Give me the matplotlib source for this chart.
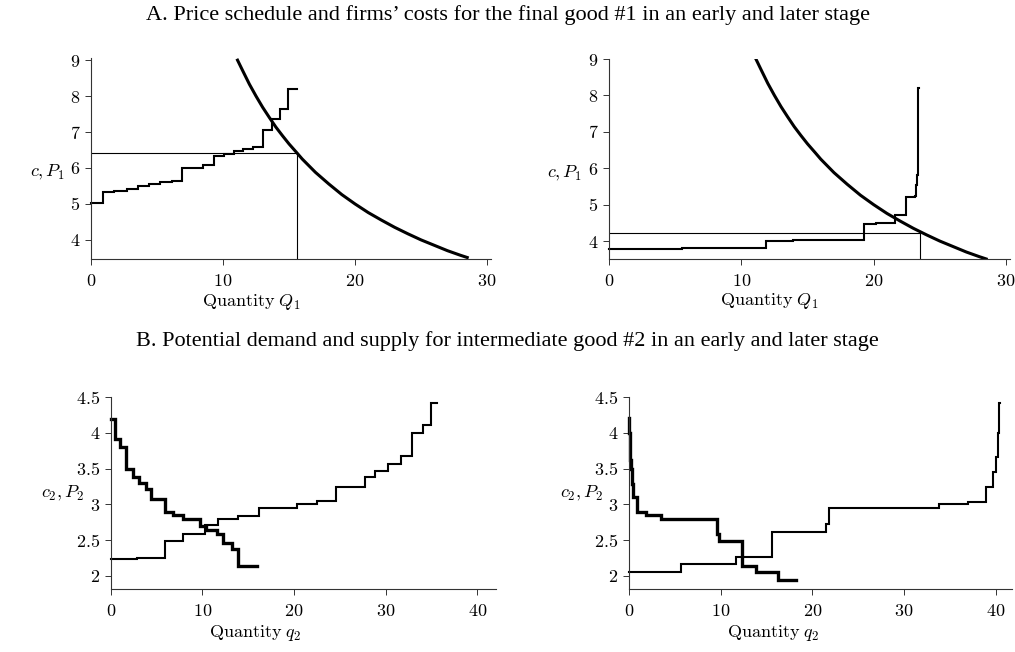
import numpy as np
import matplotlib
matplotlib.use('Agg')
import matplotlib.pyplot as plt

plt.rcParams['mathtext.fontset'] = 'cm'
plt.rcParams['font.family'] = ['Liberation Serif', 'DejaVu Serif']

# --- final good #1: price schedule ---
price_q = [11.1, 11.5, 12.0, 12.5, 13.0, 13.5, 14.0, 14.5, 15.0, 15.6, 16.0, 17.0,
           18.0, 19.0, 20.0, 21.0, 22.0, 23.0, 23.5, 24.0, 25.0, 26.0, 27.0, 28.0, 28.5]
price_p = [9.0, 8.7, 8.33, 8.0, 7.69, 7.41, 7.14, 6.9, 6.67, 6.42, 6.25, 5.88,
           5.56, 5.26, 5.0, 4.76, 4.55, 4.35, 4.26, 4.17, 4.0, 3.85, 3.7, 3.57, 3.51]

# firms' cost steps (breakpoints on Q, cost level after each breakpoint)
cost_early_q = [0, 0.88, 1.74, 2.70, 3.59, 4.42, 5.23, 6.11, 6.92, 8.51, 9.32,
                10.08, 10.8, 11.55, 12.3, 13.0, 13.7, 14.32, 14.95, 15.58]
cost_early_c = [5.02, 5.34, 5.37, 5.42, 5.49, 5.55, 5.60, 5.65, 6.00, 6.09,
                6.34, 6.38, 6.46, 6.53, 6.58, 7.07, 7.35, 7.63, 8.21]
cost_late_q = [0, 5.48, 11.85, 13.9, 19.25, 20.2, 21.6, 22.45, 23.1, 23.2, 23.3, 23.38, 23.45]
cost_late_c = [3.77, 3.80, 4.01, 4.03, 4.46, 4.49, 4.71, 5.20, 5.25, 5.55, 5.82, 8.2]

eq_early = (15.58, 6.42)
eq_late = (23.5, 4.23)

# --- intermediate good #2: potential demand and supply ---
dem_early_q = [0, 0.42, 0.97, 1.65, 2.4, 3.05, 3.8, 4.36, 5.92, 6.83, 7.92, 9.74,
               10.45, 11.56, 12.21, 13.2, 13.93, 15.92]
dem_early_p = [4.20, 3.91, 3.80, 3.50, 3.38, 3.30, 3.21, 3.08, 2.89, 2.85, 2.80,
               2.69, 2.64, 2.58, 2.46, 2.37, 2.13]
sup_early_q = [0, 2.9, 5.92, 7.85, 10.3, 11.74, 13.92, 16.15, 20.3, 22.47, 24.6,
               27.75, 28.83, 30.28, 31.65, 32.9, 34.1, 34.94, 35.63]
sup_early_c = [2.24, 2.25, 2.49, 2.59, 2.71, 2.79, 2.83, 2.95, 3.0, 3.05, 3.25,
               3.38, 3.47, 3.56, 3.68, 4.0, 4.11, 4.42]

dem_late_q = [0, 0.04, 0.08, 0.13, 0.2, 0.28, 0.45, 0.82, 1.85, 3.5, 9.62, 9.8,
              12.28, 12.38, 13.9, 16.22, 18.25]
dem_late_p = [4.21, 4.0, 3.81, 3.62, 3.50, 3.29, 3.10, 2.89, 2.85, 2.80, 2.59,
              2.48, 2.40, 2.14, 2.05, 1.94]
sup_late_q = [0, 5.64, 11.64, 15.64, 21.5, 21.8, 33.85, 37.0, 39.0, 39.75, 40.1, 40.3, 40.4, 40.5]
sup_late_c = [2.05, 2.16, 2.26, 2.61, 2.73, 2.95, 3.0, 3.04, 3.25, 3.46, 3.67, 4.0, 4.42]

W, H = 1015, 652
fig = plt.figure(figsize=(W / 100, H / 100), dpi=100)


def box(left, top, right, bottom):
    return [left / W, 1 - bottom / H, (right - left) / W, (bottom - top) / H]


def style(ax, xticks, yticks, ylab, xlab, ylab_pos, xlab_pos):
    for s in ['top', 'right']:
        ax.spines[s].set_visible(False)
    for s in ['left', 'bottom']:
        ax.spines[s].set_color('#333333')
        ax.spines[s].set_linewidth(0.8)
    ax.tick_params(direction='out', length=4, width=0.7, color='#333333', labelsize=13)
    ax.tick_params(axis='x', pad=6)
    ax.set_xticks(xticks)
    ax.set_xticklabels([f'${t:g}$' for t in xticks])
    ax.set_yticks(yticks)
    ax.set_yticklabels([f'${t:g}$' for t in yticks])
    ax.set_ylabel(ylab, rotation=0, fontsize=13, va='center', ha='center')
    ax.yaxis.set_label_coords(*ylab_pos)
    ax.set_xlabel(xlab, fontsize=13, va='center', ha='center')
    ax.xaxis.set_label_coords(*xlab_pos)


def steps(ax, q, c, lw):
    ax.plot(q, np.append(c, c[-1]), drawstyle='steps-post', color='black',
            lw=lw, clip_on=False, solid_joinstyle='miter')


# top row
top_panels = [
    (box(91, 58, 491, 259.3), cost_early_q, cost_early_c, eq_early, (3.46, 9.06)),
    (box(609, 59, 1010, 259.3), cost_late_q, cost_late_c, eq_late, (3.5, 9.0)),
]
for rect, q, c, eq, ylim in top_panels:
    ax = fig.add_axes(rect)
    ax.set_xlim(0, 30.3)
    ax.set_ylim(*ylim)
    ax.plot([0, eq[0], eq[0]], [eq[1], eq[1], ylim[0]], color='black', lw=0.8)
    steps(ax, q, c, 1.5)
    ax.plot(price_q, price_p, color='black', lw=2.2)
    style(ax, [0, 10, 20, 30], [4, 5, 6, 7, 8, 9], r'$c, P_1$',
          r'$\mathrm{Quantity}\ Q_1$', (-0.11, 0.43), (0.40, -0.21))

# bottom row
bottom_panels = [
    (box(110.7, 397.3, 495.7, 589.3), dem_early_q, dem_early_p, sup_early_q, sup_early_c, 42.0, (0.375, -0.23)),
    (box(629, 397.3, 1012, 589.3), dem_late_q, dem_late_p, sup_late_q, sup_late_c, 41.8, (0.376, -0.23)),
]
for rect, dq, dp, sq, sc, xmax, xlab_pos in bottom_panels:
    ax = fig.add_axes(rect)
    ax.set_xlim(0, xmax)
    ax.set_ylim(1.81, 4.5)
    steps(ax, sq, sc, 1.5)
    steps(ax, dq, dp, 2.4)
    style(ax, [0, 10, 20, 30, 40], [2, 2.5, 3, 3.5, 4, 4.5], r'$c_2, P_2$',
          r'$\mathrm{Quantity}\ q_2$', (-0.125, 0.50), xlab_pos)

fig.text(0.5, 1 - 15 / H, 'A. Price schedule and firms\u2019 costs for the final good #1 in an early and later stage',
         ha='center', va='center', fontsize=16)
fig.text(0.5, 1 - 341 / H, 'B. Potential demand and supply for intermediate good #2 in an early and later stage',
         ha='center', va='center', fontsize=16)

fig.savefig('out.png', dpi=100)
